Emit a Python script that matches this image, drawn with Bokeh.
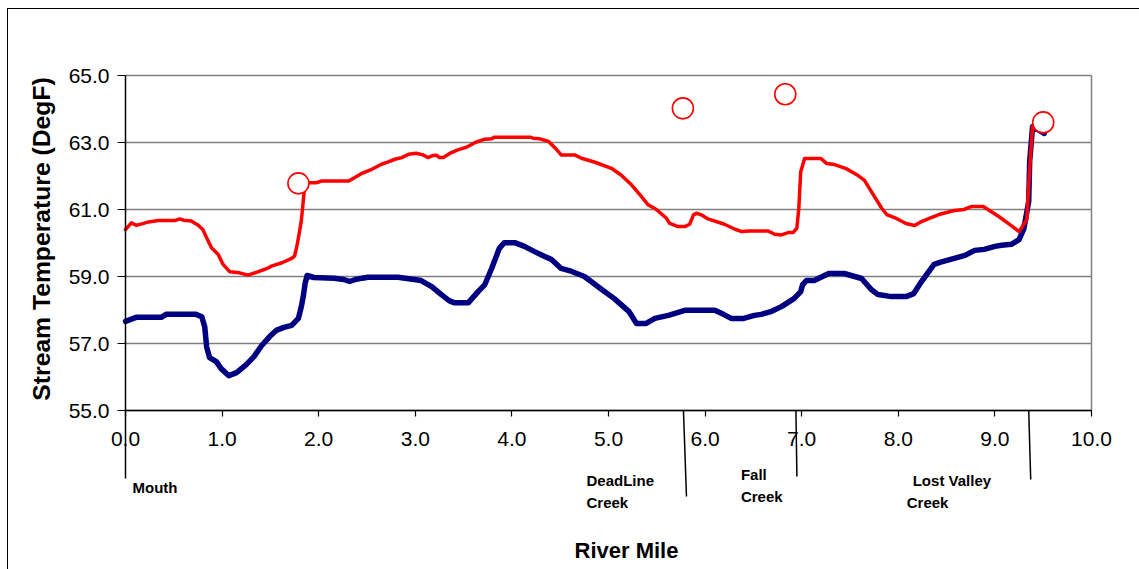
import math
from bokeh.plotting import figure
from bokeh.models import Label, Arrow, NumeralTickFormatter, FixedTicker, Range1d
from bokeh.embed import file_html
from bokeh.resources import INLINE

# ---- data ----
warm_x = [0.00, 0.06, 0.11, 0.17, 0.24, 0.34, 0.51, 0.56, 0.60, 0.68, 0.75, 0.80, 0.84, 0.89, 0.96,
          1.01, 1.08, 1.18, 1.27, 1.37, 1.48, 1.51, 1.62, 1.72, 1.75, 1.77, 1.79, 1.82, 1.84, 1.85,
          1.88, 1.98, 2.03, 2.31, 2.37, 2.44, 2.55, 2.65, 2.72, 2.79, 2.86, 2.93, 3.01, 3.08, 3.13,
          3.18, 3.22, 3.25, 3.29, 3.36, 3.44, 3.53, 3.62, 3.72, 3.79, 3.82, 4.19, 4.22, 4.29, 4.38,
          4.45, 4.51, 4.65, 4.72, 4.86, 5.03, 5.13, 5.24, 5.34, 5.41, 5.50, 5.60, 5.63, 5.72, 5.79,
          5.84, 5.88, 5.91, 5.96, 6.03, 6.20, 6.31, 6.38, 6.46, 6.65, 6.72, 6.79, 6.86, 6.91, 6.95,
          6.97, 6.99, 7.03, 7.20, 7.26, 7.34, 7.46, 7.57, 7.65, 7.72, 7.83, 7.88, 7.96, 8.08, 8.17,
          8.24, 8.34, 8.42, 8.58, 8.68, 8.76, 8.88, 9.04, 9.17, 9.25, 9.33, 9.36, 9.39, 9.45]
warm_y = [60.40, 60.60, 60.53, 60.57, 60.63, 60.67, 60.67, 60.72, 60.68, 60.66, 60.54, 60.40, 60.16, 59.86, 59.66,
          59.36, 59.14, 59.11, 59.04, 59.14, 59.26, 59.31, 59.41, 59.54, 59.61, 59.85, 60.15, 60.66, 61.25, 61.55,
          61.80, 61.80, 61.85, 61.85, 61.95, 62.07, 62.20, 62.35, 62.42, 62.50, 62.55, 62.65, 62.68, 62.63, 62.55,
          62.61, 62.62, 62.55, 62.55, 62.68, 62.78, 62.86, 63.00, 63.10, 63.11, 63.16, 63.16, 63.13, 63.11, 63.03,
          62.83, 62.63, 62.63, 62.53, 62.41, 62.23, 62.03, 61.73, 61.39, 61.14, 60.99, 60.74, 60.59, 60.49, 60.49,
          60.56, 60.84, 60.89, 60.84, 60.72, 60.56, 60.41, 60.34, 60.36, 60.36, 60.26, 60.24, 60.31, 60.31, 60.44,
          61.04, 62.13, 62.52, 62.52, 62.37, 62.34, 62.22, 62.04, 61.87, 61.54, 61.03, 60.85, 60.76, 60.58, 60.52,
          60.64, 60.76, 60.85, 60.97, 61.00, 61.09, 61.09, 60.79, 60.52, 60.34, 60.70, 62.22, 63.48, 63.54]

cool_x = [0.00, 0.11, 0.37, 0.42, 0.73, 0.79, 0.82, 0.84, 0.87, 0.94, 0.99, 1.07, 1.15, 1.25, 1.33,
          1.41, 1.49, 1.56, 1.64, 1.72, 1.79, 1.82, 1.84, 1.86, 1.88, 1.95, 2.16, 2.26, 2.32, 2.38,
          2.45, 2.51, 2.82, 2.99, 3.06, 3.17, 3.27, 3.35, 3.40, 3.55, 3.65, 3.72, 3.79, 3.87, 3.92,
          4.03, 4.13, 4.23, 4.34, 4.41, 4.51, 4.62, 4.75, 4.82, 4.93, 5.06, 5.21, 5.29, 5.39, 5.48,
          5.62, 5.79, 6.10, 6.19, 6.27, 6.40, 6.51, 6.58, 6.69, 6.79, 6.92, 6.99, 7.01, 7.05, 7.13,
          7.28, 7.44, 7.62, 7.72, 7.79, 7.93, 8.08, 8.16, 8.24, 8.37, 8.43, 8.69, 8.79, 8.89, 9.00,
          9.07, 9.17, 9.25, 9.30, 9.35, 9.36, 9.39, 9.51]
cool_y = [57.66, 57.78, 57.78, 57.87, 57.87, 57.80, 57.50, 56.90, 56.58, 56.46, 56.25, 56.04, 56.13, 56.37, 56.61,
          56.94, 57.20, 57.39, 57.48, 57.54, 57.75, 58.10, 58.40, 58.80, 59.03, 58.97, 58.95, 58.91, 58.85, 58.91,
          58.95, 58.98, 58.98, 58.91, 58.88, 58.70, 58.46, 58.28, 58.22, 58.22, 58.55, 58.76, 59.24, 59.84, 60.01,
          60.01, 59.90, 59.75, 59.60, 59.51, 59.24, 59.15, 59.00, 58.85, 58.61, 58.34, 57.96, 57.60, 57.60, 57.75,
          57.84, 57.99, 57.99, 57.87, 57.75, 57.75, 57.84, 57.87, 57.96, 58.10, 58.34, 58.55, 58.76, 58.88, 58.88,
          59.09, 59.09, 58.94, 58.61, 58.46, 58.40, 58.40, 58.49, 58.85, 59.36, 59.42, 59.63, 59.78, 59.81, 59.90,
          59.93, 59.96, 60.10, 60.43, 61.24, 62.43, 63.48, 63.27]

obs_x = [1.79, 5.77, 6.83, 9.50]
obs_y = [61.78, 64.02, 64.44, 63.60]

x_ticks = [0, 1, 2, 3, 4, 5, 6, 7, 8, 9, 10]
y_ticks = [55, 57, 59, 61, 63, 65]

creek_miles = [0.0, 5.776, 6.94, 9.35]
creek_lines = [["Mouth"], ["DeadLine", "Creek"], ["Fall", "Creek"], ["Lost Valley", "Creek"]]

# ---- layout (pixels) ----
FONT = "Liberation Sans"
X0, X1 = x_ticks[0], x_ticks[-1]
Y0, Y1 = y_ticks[0], y_ticks[-1]
FIG_W, FIG_H = 1132, 561
BOX_L, BOX_T, BOX_W, BOX_H = 117, 66, 966, 335   # plot box inside the figure
px_x = BOX_W / (X1 - X0)
px_y = BOX_H / (Y1 - Y0)
x_start = X0 - BOX_L / px_x
x_end = X1 + (FIG_W - BOX_L - BOX_W) / px_x
y_top = Y1 + BOX_T / px_y
y_bot = Y0 - (FIG_H - BOX_T - BOX_H) / px_y

label_dx = [[7], [-97, -97], [-55, -55], [-116, -122]]
label_dy = [[-77], [-70, -92], [-64, -86], [-70, -92]]
line_depth = [68, 86, 66, 69]
line_shift = [0, 3, 1, 2]

p = figure(frame_width=FIG_W, frame_height=FIG_H,
           x_range=Range1d(x_start, x_end), y_range=Range1d(y_bot, y_top),
           output_backend="svg", toolbar_location=None,
           min_border_left=0, min_border_right=0, min_border_top=0, min_border_bottom=0)
p.margin = (8, 0, 0, 7)
p.styles = {"border-top": "1px solid #000000", "border-left": "1px solid #000000"}

p.background_fill_color = "white"
p.border_fill_color = "white"
p.outline_line_color = None
p.xgrid.visible = False
p.ygrid.visible = False

# horizontal grid lines (top one is the box's upper edge) and the right edge of the box
n = len(y_ticks)
p.segment(x0=[X0] * n, y0=y_ticks, x1=[X1] * n, y1=y_ticks, line_color="#808080", line_width=1.3)
p.segment(x0=[X1], y0=[Y0], x1=[X1], y1=[Y1], line_color="#808080", line_width=1.5)

for ax in (p.xaxis[0], p.yaxis[0]):
    ax.axis_line_color = "black"
    ax.axis_line_width = 1.5
    ax.major_tick_line_color = "black"
    ax.major_tick_line_width = 1.2
    ax.major_tick_in = 0
    ax.minor_tick_line_color = None
    ax.major_label_text_font = FONT
    ax.major_label_text_font_size = "21px"
    ax.major_label_text_color = "black"
    ax.formatter = NumeralTickFormatter(format="0.0")

p.xaxis.ticker = FixedTicker(ticks=x_ticks)
p.yaxis.ticker = FixedTicker(ticks=y_ticks)
p.xaxis.bounds = (X0, X1)
p.yaxis.bounds = (Y0, Y1)
p.xaxis.fixed_location = Y0
p.yaxis.fixed_location = X0
p.xaxis.major_tick_out = 6
p.yaxis.major_tick_out = 8
p.xaxis.major_label_standoff = 15
p.yaxis.major_label_standoff = 8

p.add_layout(Label(x=X0, y=(Y0 + Y1) / 2, x_offset=-84, y_offset=4, angle=math.pi / 2,
                   text="Stream Temperature (DegF)", text_font=FONT, text_font_style="bold",
                   text_font_size="24.7px", text_color="black",
                   text_baseline="middle", text_align="center"))
p.add_layout(Label(x=(X0 + X1) / 2, y=Y0, x_offset=18, y_offset=-140, text="River Mile",
                   text_font=FONT, text_font_style="bold", text_font_size="22px",
                   text_color="black", text_baseline="middle", text_align="center"))

p.line(cool_x, cool_y, line_color="#000080", line_width=5.5, line_join="round", line_cap="round")
p.line(warm_x, warm_y, line_color="#FF0000", line_width=3.5, line_join="round", line_cap="round")
p.scatter(obs_x, obs_y, marker="circle", size=21, fill_color="white",
          line_color="#FF0000", line_width=1.6)

for i, mile in enumerate(creek_miles):
    p.add_layout(Arrow(end=None, x_start=mile, y_start=Y0,
                       x_end=mile + line_shift[i] / px_x, y_end=Y0 - line_depth[i] / px_y,
                       line_color="black", line_width=1.5))
    for j, txt in enumerate(creek_lines[i]):
        p.add_layout(Label(x=mile, y=Y0, x_offset=label_dx[i][j], y_offset=label_dy[i][j],
                           text=txt, text_font=FONT, text_font_style="bold",
                           text_font_size="15px", text_color="black",
                           text_baseline="middle", text_align="left"))

open("out.html", "w").write(file_html(p, INLINE))
